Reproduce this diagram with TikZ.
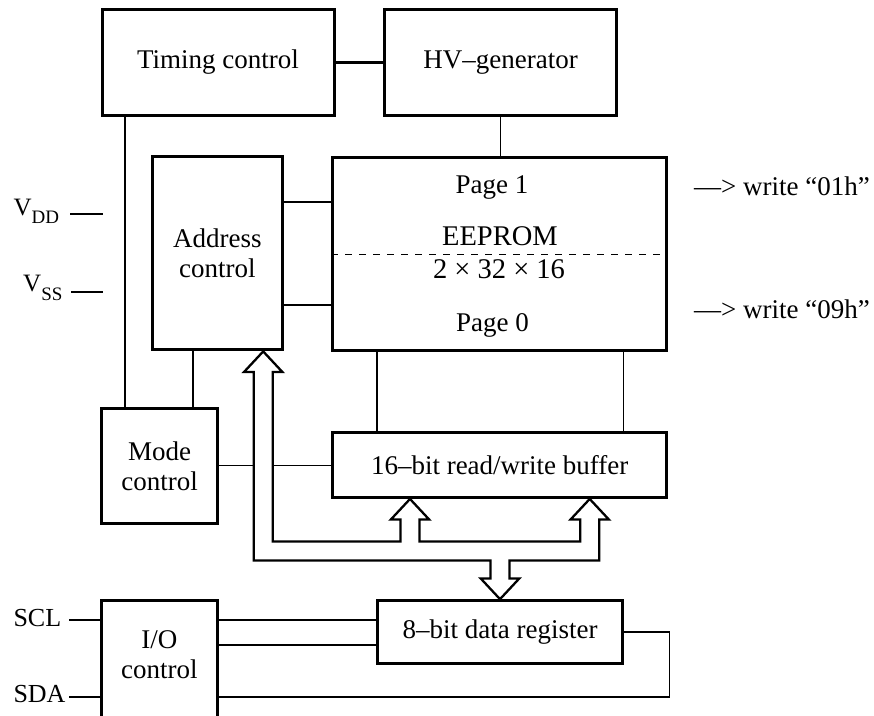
\documentclass[tikz,border=0pt]{standalone}
\usepackage{fontspec}
\setmainfont{Liberation Serif}
\usetikzlibrary{calc}
\newcommand\mainsz{\fontsize{27}{30}\selectfont}
\newcommand\eesz{\fontsize{28.5}{30}\selectfont}
\newcommand\pinsz{\fontsize{26}{28}\selectfont}
\newcommand\vsz{\fontsize{25}{28}\selectfont}
\newcommand\subsz{\fontsize{19}{20}\selectfont}
\newcommand\bhw{19.2}
\newcommand\bsw{9.5}
\newcommand\bhh{20.6}
\begin{document}
\begin{tikzpicture}[x=1pt,y=-1pt,
  blk/.style={draw, line width=3pt, inner sep=0pt, align=center, font=\mainsz},
  conn/.style={line width=2.3pt},
  thinconn/.style={line width=1.3pt},
  txt/.style={inner sep=0pt, font=\mainsz},
  divider/.style={line width=1.2pt, dash pattern=on 7pt off 7pt},
  bus/.style={line width=2.3pt, fill=white, line join=miter}]
\useasboundingbox (0,0) rectangle (874,715);
\clip (0,0) rectangle (874,715);

% blocks
\node[blk, minimum width=232pt, minimum height=106pt] (timing) at (218,62.5) {Timing control};
\node[blk, minimum width=232.5pt, minimum height=106pt] (hv) at (500.7,62.5) {HV–generator};
\node[blk, minimum width=130pt, minimum height=193pt] (addr) at (217.4,253.4) {Address\\control};
\node[blk, minimum width=334pt, minimum height=193pt] (eeprom) at (499.6,253.5) {};
\node[blk, minimum width=116pt, minimum height=115pt] (mode) at (159.7,465.8) {Mode\\control};
\node[blk, minimum width=334pt, minimum height=64.5pt] (buf) at (499.7,465.2) {16–bit read/write buffer};
\node[blk, minimum width=245.4pt, minimum height=63.3pt] (reg) at (500,632.3) {8–bit data register};
\node[blk, minimum width=116.7pt, minimum height=125pt] (io) at (159.4,663.2) {};
\node[txt, align=center] (iotext) at (159.4,654.6) {I/O\\control};

% EEPROM contents
\node[txt, anchor=base] (page1) at (492,193.3) {Page 1};
\node[txt, anchor=base, font=\eesz] (eename) at (499.9,245) {EEPROM};
\node[txt, anchor=base, font=\eesz] (eedim) at (499,278.3) {2 × 32 × 16};
\node[txt, anchor=base] (page0) at (492.5,331.7) {Page 0};
\draw[divider] ([yshift=-0.8pt]eeprom.west) -- ([yshift=-0.8pt]eeprom.east);

% side notes
\node[txt, anchor=base west] (w1) at (694,195) {—> write “01h”};
\node[txt, anchor=base west] (w0) at (694,318.3) {—> write “09h”};

% supply pins
\node[inner sep=0pt, anchor=base west, font=\vsz] (vdd) at (13.3,215) {V\raisebox{-8.3pt}{\subsz DD}};
\node[inner sep=0pt, anchor=base west, font=\vsz] (vss) at (23,291.7) {V\raisebox{-8.3pt}{\subsz SS}};
\coordinate (vddL) at (70,214.3);
\coordinate (vddR) at (102.5,214.3);
\coordinate (vssL) at (71,292);
\coordinate (vssR) at (102.5,292);
\draw[conn] (vddL) -- (vddR);
\draw[thinconn] (vssL) -- (vssR);

% serial pins
\node[inner sep=0pt, anchor=base west, font=\pinsz] (scl) at (13.3,626) {SCL};
\node[inner sep=0pt, anchor=base west, font=\pinsz] (sda) at (13.3,702.7) {SDA};
\coordinate (sclL) at (69,620);
\coordinate (sdaL) at (69,697.3);
\draw[conn] (sclL) -- ([yshift=43.2pt]io.west);
\draw[conn] (sdaL) -- ([yshift=-34.1pt]io.west);

% connectors
\draw[conn] (timing.east) -- (hv.west);
\draw[thinconn] (hv.south) -- (hv.south |- eeprom.north);
\draw[conn] ([xshift=25pt]mode.north west) -- ([xshift=25pt]mode.north west |- timing.south);
\draw[conn] ([xshift=-26pt]mode.north east) -- ([xshift=-26pt]mode.north east |- addr.south);
\draw[conn] ([yshift=51.7pt]addr.east) -- ([yshift=51.7pt]addr.east -| eeprom.west);
\draw[conn] ([yshift=-51.6pt]addr.east) -- ([yshift=-51.6pt]addr.east -| eeprom.west);
\draw[conn] ([xshift=45.7pt]eeprom.south west) -- ([xshift=45.7pt]eeprom.south west |- buf.north);
\draw[thinconn] ([xshift=-44.3pt]eeprom.south east) -- ([xshift=-44.3pt]eeprom.south east |- buf.north);
\draw[thinconn] (mode.east) -- (mode.east -| buf.west);
\draw[conn] ([yshift=43.2pt]io.east) -- ([yshift=43.2pt]io.east -| reg.west);
\draw[conn] ([yshift=18.2pt]io.east) -- ([yshift=18.2pt]io.east -| reg.west);

% loop from register to SDA
\coordinate (loopT) at ([xshift=45pt]reg.east);
\coordinate (sdaR) at ([yshift=-34.1pt]io.east);
\draw[conn, line cap=rect] (reg.east) -- (loopT);
\draw[thinconn] (loopT) -- (loopT |- sdaR);
\draw[conn, line cap=rect] (loopT |- sdaR) -- (sdaR);

% data bus
\coordinate (tA) at ([xshift=-20.7pt]addr.south east);
\coordinate (tB1) at ([xshift=-89.7pt]buf.south);
\coordinate (tB2) at ([xshift=90pt]buf.south);
\coordinate (tR) at (reg.north);
\coordinate (chT) at ([yshift=-42.5pt]buf.south);
\coordinate (chB) at ([yshift=-61.5pt]buf.south);
\coordinate (aL) at ($(tA)+(-\bsw,0)$);
\coordinate (aR) at ($(tA)+(\bsw,0)$);
\coordinate (b1L) at ($(tB1)+(-\bsw,0)$);
\coordinate (b1R) at ($(tB1)+(\bsw,0)$);
\coordinate (b2L) at ($(tB2)+(-\bsw,0)$);
\coordinate (b2R) at ($(tB2)+(\bsw,0)$);
\coordinate (rL) at ($(tR)+(-\bsw,0)$);
\coordinate (rR) at ($(tR)+(\bsw,0)$);
\coordinate (aB) at ($(tA)+(0,\bhh)$);
\coordinate (bB) at ($(tB1)+(0,\bhh)$);
\coordinate (rB) at ($(tR)+(0,-\bhh)$);
\draw[bus] (tA) -- ($(tA)+(\bhw,\bhh)$) -- (aR |- aB) -- (aR |- chT)
  -- (b1L |- chT) -- (b1L |- bB) -- ($(tB1)+(-\bhw,\bhh)$) -- (tB1)
  -- ($(tB1)+(\bhw,\bhh)$) -- (b1R |- bB) -- (b1R |- chT)
  -- (b2L |- chT) -- (b2L |- bB) -- ($(tB2)+(-\bhw,\bhh)$) -- (tB2)
  -- ($(tB2)+(\bhw,\bhh)$) -- (b2R |- bB) -- (b2R |- chB)
  -- (rR |- chB) -- (rR |- rB) -- ($(tR)+(\bhw,-\bhh)$) -- (tR)
  -- ($(tR)+(-\bhw,-\bhh)$) -- (rL |- rB) -- (rL |- chB)
  -- (aL |- chB) -- (aL |- aB) -- ($(tA)+(-\bhw,\bhh)$) -- cycle;
\end{tikzpicture}
\end{document}
